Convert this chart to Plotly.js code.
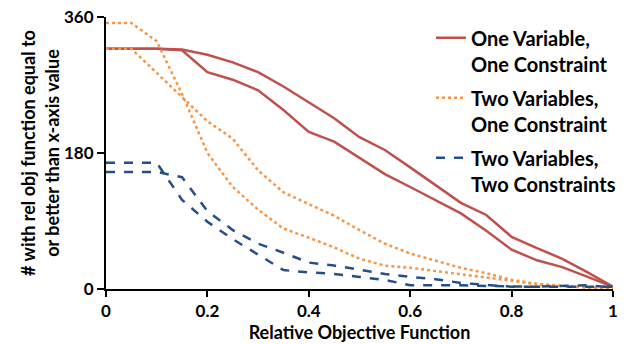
<!DOCTYPE html>
<html>
<head>
<meta charset="utf-8">
<script src="https://cdn.plot.ly/plotly-3.0.1.min.js"></script>
<style>html,body{margin:0;padding:0;background:#fff;}#chart{width:624px;height:344px;}</style>
</head>
<body>
<div id="chart"></div>
<script>
var xVals = [0, 0.05, 0.1, 0.15, 0.2, 0.25, 0.3, 0.35, 0.4, 0.45, 0.5, 0.55, 0.6, 0.65, 0.7, 0.75, 0.8, 0.85, 0.9, 0.95, 1];

var oneVarA = [318, 318, 318, 317, 310, 300, 287, 268, 247, 226, 201, 184, 161, 138, 114, 98, 69, 54, 40, 22, 3];
var oneVarB = [318, 318, 318, 316, 287, 277, 263, 237, 208, 195, 173, 152, 135, 118, 100, 77, 52, 38, 29, 16, 3];

var twoVarOneConA = [352, 352, 328, 258, 180, 135, 105, 80, 68, 55, 40, 31, 28, 24, 20, 16, 11, 6, 4, 2, 1];
var twoVarOneConB = [318, 318, 286, 254, 222, 199, 157, 128, 112, 97, 78, 60, 47, 38, 28, 21, 12, 7, 4, 2, 1];

var twoVarTwoConA = [167, 167, 167, 118, 89, 66, 45, 25, 22, 20, 16, 12, 5, 5, 5, 4, 3, 3, 3, 3, 3];
var twoVarTwoConB = [155, 155, 155, 148, 103, 78, 60, 48, 35, 31, 25, 20, 16, 13, 8, 6, 3, 3, 4, 5, 2];

var seriesNames = ['One Variable,<br>One Constraint', 'Two Variables,<br>One Constraint', 'Two Variables,<br>Two Constraints'];

var xTickVals = [0, 0.2, 0.4, 0.6, 0.8, 1];
var xTickText = ['0', '0.2', '0.4', '0.6', '0.8', '1'];
var yTickVals = [0, 180, 360];
var yTickText = ['0', '180', '360'];

var red = '#C0504D', orange = '#F79646', blue = '#254F85';

function tr(y, name, color, dash, show, grp) {
  return {x: xVals, y: y, type: 'scatter', mode: 'lines', name: name,
    legendgroup: grp, showlegend: show,
    line: {color: color, width: 2.5, dash: dash}};
}

var data = [
  tr(oneVarA, seriesNames[0], red, 'solid', true, 'g1'),
  tr(oneVarB, seriesNames[0], red, 'solid', false, 'g1'),
  tr(twoVarOneConA, seriesNames[1], orange, 'dot', true, 'g2'),
  tr(twoVarOneConB, seriesNames[1], orange, 'dot', false, 'g2'),
  tr(twoVarTwoConA, seriesNames[2], blue, 'dash', true, 'g3'),
  tr(twoVarTwoConB, seriesNames[2], blue, 'dash', false, 'g3')
];

var fontFam = 'Lato, "Open Sans", sans-serif';

var layout = {
  width: 624, height: 344,
  margin: {l: 106, r: 3, t: 17, b: 55},
  paper_bgcolor: '#fff', plot_bgcolor: '#fff',
  font: {family: fontFam, color: '#000', size: 16, weight: 'bold'},
  showlegend: true,
  legend: {x: 0.641, y: 0.995, xanchor: 'left', yanchor: 'top', valign: 'top',
    font: {family: fontFam, size: 20, color: '#000', weight: 'bold'},
    bgcolor: 'rgba(0,0,0,0)', tracegroupgap: 5, itemwidth: 30},
  xaxis: {range: [0, 1], tickvals: xTickVals, ticktext: xTickText, automargin: false,
    ticklabeloverflow: 'allow',
    showgrid: false, zeroline: false, showline: true, linecolor: '#000', linewidth: 2,
    ticks: 'outside', ticklen: 6, tickwidth: 2, tickcolor: '#000',
    tickfont: {family: fontFam, size: 17, color: '#000', weight: 'bold'},
    title: {text: 'Relative Objective Function', standoff: 6,
      font: {family: fontFam, size: 18, color: '#000', weight: 'bold'}}},
  yaxis: {range: [0, 360], tickvals: yTickVals, ticktext: yTickText, automargin: false,
    showgrid: false, zeroline: false, showline: true, linecolor: '#000', linewidth: 2,
    ticks: 'outside', ticklen: 7, tickwidth: 2, tickcolor: '#000',
    tickfont: {family: fontFam, size: 17, color: '#000', weight: 'bold'},
    title: {text: '# with rel obj function equal to<br>or better than x-axis value', standoff: 0,
      font: {family: fontFam, size: 18, color: '#000', weight: 'bold'}}}
};

Plotly.newPlot('chart', data, layout, {displayModeBar: false, responsive: false});
</script>
</body>
</html>
